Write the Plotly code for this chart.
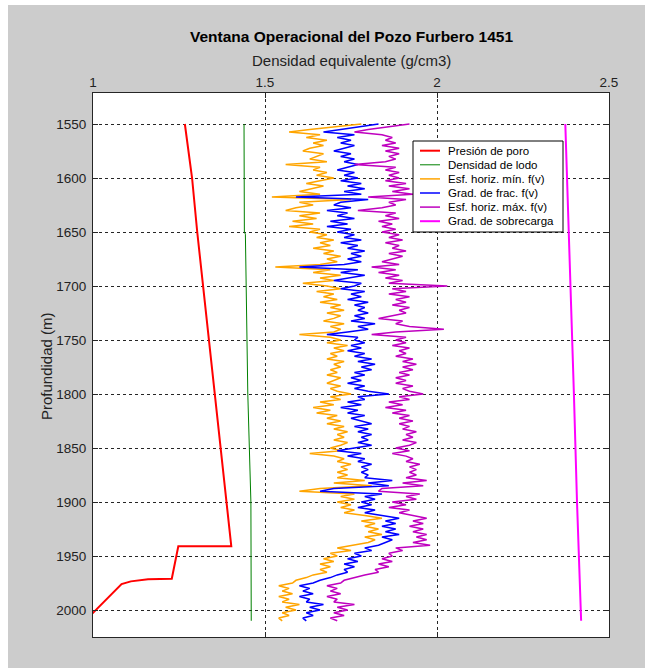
import numpy as np
import plotly.graph_objects as go

# ---------------- data ----------------
# sampling depths of the log-derived curves (m)
DEPTH_TOP, DEPTH_BOTTOM, DEPTH_STEP = 1550.0, 2010.0, 2.5
DEPTH = np.arange(DEPTH_TOP, DEPTH_BOTTOM + DEPTH_STEP / 2, DEPTH_STEP)

# Esf. horiz. min. f(v)  (g/cm3)
ESF_MIN = [
    1.78, 1.70, 1.63, 1.57, 1.66, 1.62, 1.68, 1.64, 1.67, 1.63,
    1.61, 1.67, 1.65, 1.63, 1.68, 1.56, 1.66, 1.64, 1.68, 1.65,
    1.70, 1.66, 1.62, 1.67, 1.63, 1.60, 1.66, 1.52, 1.75, 1.60,
    1.64, 1.59, 1.56, 1.66, 1.60, 1.65, 1.58, 1.64, 1.57, 1.66,
    1.63, 1.68, 1.65, 1.70, 1.66, 1.69, 1.64, 1.70, 1.67, 1.72,
    1.68, 1.71, 1.66, 1.53, 1.69, 1.64, 1.72, 1.66, 1.70, 1.61,
    1.68, 1.72, 1.65, 1.70, 1.67, 1.71, 1.66, 1.72, 1.69, 1.73,
    1.68, 1.72, 1.70, 1.67, 1.73, 1.69, 1.72, 1.70, 1.60, 1.69,
    1.72, 1.68, 1.74, 1.70, 1.73, 1.69, 1.71, 1.68, 1.73, 1.70,
    1.72, 1.69, 1.71, 1.68, 1.72, 1.70, 1.68, 1.72, 1.69, 1.71,
    1.75, 1.69, 1.72, 1.66, 1.70, 1.64, 1.69, 1.65, 1.71, 1.68,
    1.72, 1.68, 1.73, 1.70, 1.74, 1.71, 1.73, 1.70, 1.74, 1.72,
    1.69, 1.72, 1.63, 1.70, 1.73, 1.71, 1.75, 1.72, 1.74, 1.71,
    1.74, 1.71, 1.79, 1.70, 1.81, 1.66, 1.60, 1.76, 1.72, 1.76,
    1.71, 1.75, 1.72, 1.76, 1.73, 1.79, 1.84, 1.78, 1.82, 1.79,
    1.83, 1.80, 1.84, 1.79, 1.82, 1.80, 1.76, 1.71, 1.75, 1.69,
    1.71, 1.67, 1.70, 1.66, 1.69, 1.66, 1.68, 1.64, 1.62, 1.59,
    1.58, 1.54, 1.57, 1.55, 1.58, 1.54, 1.57, 1.55, 1.60, 1.56,
    1.59, 1.55, 1.57, 1.54, 1.55,
]

# Grad. de frac. f(v)  (g/cm3)
GRAD_FRAC = [
    1.83, 1.78, 1.72, 1.67, 1.76, 1.71, 1.75, 1.72, 1.76, 1.73,
    1.70, 1.75, 1.72, 1.76, 1.73, 1.77, 1.74, 1.71, 1.76, 1.73,
    1.77, 1.72, 1.78, 1.74, 1.79, 1.73, 1.78, 1.59, 1.80, 1.72,
    1.70, 1.75, 1.68, 1.74, 1.71, 1.76, 1.69, 1.74, 1.68, 1.75,
    1.71, 1.76, 1.73, 1.78, 1.72, 1.77, 1.74, 1.79, 1.75, 1.78,
    1.74, 1.78, 1.73, 1.60, 1.77, 1.72, 1.79, 1.74, 1.70, 1.78,
    1.76, 1.72, 1.79, 1.75, 1.78, 1.74, 1.80, 1.76, 1.79, 1.77,
    1.80, 1.76, 1.79, 1.75, 1.82, 1.77, 1.80, 1.74, 1.68, 1.77,
    1.76, 1.79, 1.75, 1.78, 1.74, 1.79, 1.76, 1.81, 1.77, 1.82,
    1.78, 1.81, 1.76, 1.79, 1.75, 1.78, 1.74, 1.79, 1.76, 1.80,
    1.86, 1.77, 1.79, 1.74, 1.78, 1.72, 1.77, 1.74, 1.79, 1.75,
    1.78, 1.81, 1.76, 1.80, 1.77, 1.81, 1.78, 1.80, 1.77, 1.81,
    1.76, 1.71, 1.78, 1.74, 1.79, 1.77, 1.81, 1.78, 1.80, 1.78,
    1.80, 1.79, 1.87, 1.80, 1.86, 1.70, 1.66, 1.84, 1.79, 1.82,
    1.78, 1.81, 1.77, 1.82, 1.79, 1.84, 1.89, 1.85, 1.88, 1.84,
    1.88, 1.85, 1.89, 1.84, 1.87, 1.85, 1.83, 1.79, 1.81, 1.76,
    1.78, 1.74, 1.77, 1.73, 1.76, 1.73, 1.74, 1.71, 1.69, 1.66,
    1.64, 1.60, 1.63, 1.61, 1.64, 1.60, 1.63, 1.62, 1.67, 1.63,
    1.66, 1.62, 1.64, 1.61, 1.62,
]

# Esf. horiz. max. f(v)  (g/cm3)
ESF_MAX = [
    1.92, 1.86, 1.80, 1.76, 1.84, 1.87, 1.85, 1.88, 1.84, 1.89,
    1.85, 1.89, 1.86, 1.88, 1.85, 1.76, 1.88, 1.85, 1.89, 1.86,
    1.89, 1.85, 1.91, 1.86, 1.92, 1.87, 1.93, 1.80, 1.91, 1.86,
    1.88, 1.84, 1.77, 1.88, 1.85, 1.89, 1.83, 1.87, 1.84, 1.88,
    1.84, 1.89, 1.86, 1.90, 1.85, 1.89, 1.87, 1.91, 1.86, 1.90,
    1.87, 1.84, 1.89, 1.81, 1.88, 1.83, 1.89, 1.85, 1.90, 1.86,
    2.03, 1.87, 1.91, 1.86, 1.92, 1.88, 1.91, 1.87, 1.92, 1.89,
    1.91, 1.87, 1.83, 1.90, 1.88, 1.92, 2.02, 1.88, 1.81, 1.91,
    1.88, 1.91, 1.87, 1.92, 1.89, 1.91, 1.88, 1.93, 1.90, 1.94,
    1.90, 1.93, 1.89, 1.92, 1.88, 1.91, 1.88, 1.93, 1.90, 1.92,
    1.96, 1.89, 1.92, 1.86, 1.90, 1.85, 1.91, 1.87, 1.92, 1.89,
    1.93, 1.89, 1.92, 1.90, 1.94, 1.91, 1.93, 1.90, 1.94, 1.92,
    1.88, 1.92, 1.87, 1.91, 1.93, 1.91, 1.95, 1.92, 1.94, 1.92,
    1.94, 1.91, 1.97, 1.90, 1.96, 1.84, 1.83, 1.95, 1.91, 1.94,
    1.87, 1.91, 1.86, 1.92, 1.89, 1.93, 1.97, 1.93, 1.96, 1.92,
    1.96, 1.93, 1.97, 1.94, 1.97, 1.93, 1.98, 1.88, 1.90, 1.86,
    1.87, 1.84, 1.87, 1.83, 1.86, 1.82, 1.83, 1.79, 1.76, 1.73,
    1.72, 1.68, 1.71, 1.69, 1.72, 1.68, 1.71, 1.70, 1.76, 1.71,
    1.74, 1.70, 1.73, 1.69, 1.71,
]

# Presion de poro (polyline vertices)
PORO_DEPTH = [1550, 1600, 1650, 1900, 1941, 1941, 1971, 1971.6, 1973.5, 1976, 2010]
PORO = [1.267, 1.288, 1.303, 1.387, 1.402, 1.248, 1.229, 1.160, 1.110, 1.083, 0.977]

# Densidad de lodo
LODO_DEPTH = [1550, 1650, 1652, 1800, 1900, 2010]
LODO = [1.439, 1.440, 1.443, 1.450, 1.459, 1.460]

# Grad. de sobrecarga
SOB_DEPTH = [1550, 1600, 1660, 1700, 1800, 1900, 1950, 2010]
SOB = [2.373, 2.378, 2.386, 2.389, 2.398, 2.407, 2.412, 2.419]

X_TICKS = [1, 1.5, 2, 2.5]
X_TICK_TEXT = ["1", "1.5", "2", "2.5"]
Y_TICKS = [1550, 1600, 1650, 1700, 1750, 1800, 1850, 1900, 1950, 2000]

TITLE = "Ventana Operacional del Pozo Furbero 1451"
X_LABEL = "Densidad equivalente (g/cm3)"
Y_LABEL = "Profundidad (m)"

# ---------------- styling ----------------
FONT = "Liberation Sans, Arial, Helvetica, sans-serif"
W, H = 645, 668
L, R, T, B = 93, 609, 93, 637  # plot-area pixel box
AX = "#262626"

series = [
    dict(name="Presión de poro", x=PORO, y=PORO_DEPTH, color="#ff0000", width=2),
    dict(name="Densidad de lodo", x=LODO, y=LODO_DEPTH, color="#008000", width=1),
    dict(name="Esf. horiz. mín. f(v)", x=ESF_MIN, y=DEPTH, color="#ffa500", width=1.5),
    dict(name="Grad. de frac. f(v)", x=GRAD_FRAC, y=DEPTH, color="#0000ff", width=1.5),
    dict(name="Esf. horiz. máx. f(v)", x=ESF_MAX, y=DEPTH, color="#bf00bf", width=1.5),
    dict(name="Grad. de sobrecarga", x=SOB, y=SOB_DEPTH, color="#ff00ff", width=2),
]


def px(x):
    return (x - L) / (R - L)


def py(y):
    return (B - y) / (B - T)


fig = go.Figure()
for s in series:
    fig.add_trace(go.Scatter(
        x=s["x"], y=s["y"], mode="lines", name=s["name"],
        line=dict(color=s["color"], width=s["width"]),
        showlegend=False, hoverinfo="skip",
    ))

axis_common = dict(
    showgrid=True, gridcolor=AX, griddash="dot", gridwidth=1,
    showline=True, linecolor=AX, linewidth=1, mirror="ticks",
    ticks="inside", ticklen=5, tickcolor=AX, zeroline=False,
    tickfont=dict(family=FONT, size=13.5, color="#222"),
)

fig.update_layout(
    width=W, height=H, autosize=False,
    margin=dict(l=L, r=W - R, t=T, b=H - B, pad=0),
    paper_bgcolor="#cccccc", plot_bgcolor="#ffffff",
    font=dict(family=FONT, color="#000"),
    xaxis=dict(range=[1, 2.5], side="top", tickvals=X_TICKS, ticktext=X_TICK_TEXT,
               **axis_common),
    yaxis=dict(range=[2025, 1521.3], tickvals=Y_TICKS, ticklabelstandoff=3,
               **axis_common),
    showlegend=False,
)

shapes = [
    # white screenshot border at left and top
    dict(type="rect", xref="paper", yref="paper", x0=px(-5), x1=px(8),
         y0=py(H + 5), y1=py(-5), fillcolor="white", line=dict(width=0), layer="below"),
    dict(type="rect", xref="paper", yref="paper", x0=px(-5), x1=px(W + 5),
         y0=py(5), y1=py(-5), fillcolor="white", line=dict(width=0), layer="below"),
    # legend box
    dict(type="rect", xref="paper", yref="paper", x0=px(413), x1=px(563),
         y0=py(232), y1=py(141), fillcolor="white", line=dict(color="#000", width=1)),
]
annotations = [
    dict(text="<b>" + TITLE + "</b>", x=0.5, y=py(36), xref="paper", yref="paper",
         showarrow=False, font=dict(size=15.5, family=FONT, color="#000"),
         xanchor="center", yanchor="middle"),
    dict(text=X_LABEL, x=0.5, y=py(61), xref="paper", yref="paper",
         showarrow=False, font=dict(size=15, family=FONT, color="#222"),
         xanchor="center", yanchor="middle"),
    dict(text=Y_LABEL, x=px(46), y=py(366), xref="paper", yref="paper",
         showarrow=False, textangle=-90, font=dict(size=15, family=FONT, color="#222"),
         xanchor="center", yanchor="middle"),
]
for i, s in enumerate(series):
    yy = py(150.7 + 14.1 * i)
    shapes.append(dict(type="line", xref="paper", yref="paper", x0=px(420), x1=px(440),
                       y0=yy, y1=yy, line=dict(color=s["color"], width=min(s["width"], 2))))
    annotations.append(dict(text=s["name"], x=px(446), y=yy, xref="paper", yref="paper",
                            showarrow=False, xanchor="left", yanchor="middle",
                            font=dict(size=11.5, family=FONT, color="#000")))

fig.update_layout(shapes=shapes, annotations=annotations)
fig.write_html(
    "out.html",
    config={"displayModeBar": False, "staticPlot": True},
    post_script=(
        "document.documentElement.style.margin='0';"
        "document.documentElement.style.overflow='hidden';"
        "document.body.style.margin='0';"
        "document.body.style.overflow='hidden';"
    ),
)
